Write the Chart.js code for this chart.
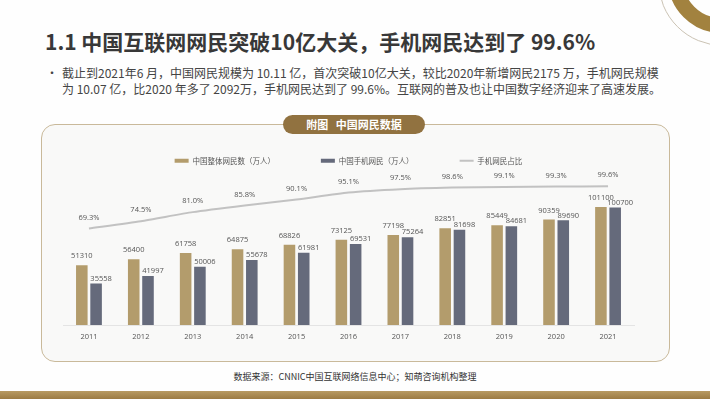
<!DOCTYPE html>
<html>
<head>
<meta charset="utf-8">
<script src="https://cdn.jsdelivr.net/npm/chart.js@4.4.1/dist/chart.umd.min.js"></script>
<style>
  body { margin: 0; background: #fefefe; width: 710px; height: 399px; overflow: hidden; position: relative;
         font-family: "Noto Sans CJK SC", "Noto Sans", sans-serif; }
  .abs { position: absolute; }
  #title { left: 45px; top: 27px; font-size: 21px; font-weight: 700; color: #383838; line-height: 28px; white-space: nowrap; }
  #bullet { left: 46px; top: 65px; font-size: 12px; color: #444; line-height: 16px; }
  #desc { left: 62px; top: 65px; font-size: 12px; color: #444; line-height: 16px; white-space: nowrap; }
  #panel { left: 41px; top: 124px; width: 629px; height: 238px; box-sizing: border-box;
           border: 1.5px solid #c9b99a; border-radius: 14px; background: #f9f9f8; }
  #pill { left: 283px; top: 115px; width: 142px; height: 19px; border-radius: 10px; background: #917240;
          color: #fff; font-size: 11px; font-weight: 700; line-height: 19px; text-align: center; }
  #source { left: 0; width: 710px; top: 370px; text-align: center; font-size: 9px; color: #333; line-height: 14px; }
  #bottom { left: 0; top: 391px; width: 710px; height: 8px; background: linear-gradient(#b89a62, #9c7b43); }
  #ring { left: 668px; top: -74px; width: 77px; height: 77px; border: 15.5px solid #a2823f; border-radius: 50%; }
  #thin { left: 658px; top: -84px; width: 128px; height: 128px; border: 1px solid #cbc3b4; border-radius: 50%; }
  canvas { position: absolute; left: 0; top: 0; }
</style>
</head>
<body>
<div id="thin" class="abs"></div>
<div id="ring" class="abs"></div>
<div id="title" class="abs">1.1 中国互联网网民突破10亿大关，手机网民达到了 99.6%</div>
<div id="bullet" class="abs">•</div>
<div id="desc" class="abs">截止到2021年6 月，中国网民规模为 10.11 亿，首次突破10亿大关，较比2020年新增网民2175 万，手机网民规模<br>为 10.07 亿，比2020 年多了 2092万，手机网民达到了 99.6%。互联网的普及也让中国数字经济迎来了高速发展。</div>
<div id="panel" class="abs"></div>
<div id="pill" class="abs">附图&nbsp;&nbsp;&nbsp;中国网民数据</div>
<div id="source" class="abs">数据来源：CNNIC中国互联网络信息中心；知萌咨询机构整理</div>
<div id="bottom" class="abs"></div>
<canvas id="chart" width="710" height="399"></canvas>
<script>
var years = ['2011', '2012', '2013', '2014', '2015', '2016', '2017', '2018', '2019', '2020', '2021'];
var total_users = [51310, 56400, 61758, 64875, 68826, 73125, 77198, 82851, 85449, 90359, 101100];
var mobile_users = [35558, 41997, 50006, 55678, 61981, 69531, 75264, 81698, 84681, 89690, 100700];
var mobile_share = [69.3, 74.5, 81.0, 85.8, 90.1, 95.1, 97.5, 98.6, 99.1, 99.3, 99.6];

var gold = '#b39c6c';
var slate = '#656a7b';
var lineGray = '#c2c2c2';
var labelFont = '7.5px "Open Sans"';

// numbers above the bars and the line
var valueLabels = {
  id: 'valueLabels',
  afterDatasetsDraw: function(chart) {
    var ctx = chart.ctx;
    ctx.save();
    ctx.font = labelFont;
    ctx.fillStyle = '#555';
    ctx.textAlign = 'center';
    ctx.textBaseline = 'middle';
    chart.data.datasets.forEach(function(ds, i) {
      chart.getDatasetMeta(i).data.forEach(function(el, j) {
        if (i == 0) ctx.fillText(ds.data[j], el.x, el.y - 9);
        else if (i == 1) ctx.fillText(ds.data[j], el.x + 5, el.y - 5);
        else ctx.fillText(ds.data[j].toFixed(1) + '%', el.x, el.y - 11);
      });
    });
    ctx.restore();
  }
};

new Chart(document.getElementById('chart'), {
  type: 'bar',
  data: {
    labels: years,
    datasets: [
      {
        label: '中国整体网民数（万人）',
        data: total_users,
        backgroundColor: gold,
        borderWidth: 0,
        pointStyle: 'rect',
        barPercentage: 0.81,
        categoryPercentage: 0.55,
        yAxisID: 'y'
      },
      {
        label: '中国手机网民（万人）',
        data: mobile_users,
        backgroundColor: slate,
        borderWidth: 0,
        pointStyle: 'rect',
        barPercentage: 0.81,
        categoryPercentage: 0.55,
        yAxisID: 'y'
      },
      {
        type: 'line',
        label: '手机网民占比',
        data: mobile_share,
        borderColor: lineGray,
        backgroundColor: lineGray,
        borderWidth: 2,
        pointRadius: 0,
        pointStyle: 'line',
        tension: 0.2,
        yAxisID: 'y1'
      }
    ]
  },
  options: {
    responsive: false,
    animation: false,
    layout: { padding: { left: 63, right: 76, top: 111, bottom: 51 } },
    scales: {
      x: {
        grid: { display: false, drawTicks: false },
        border: { display: true, color: '#e4e4e4' },
        ticks: { color: '#555', font: { family: 'Open Sans', size: 7.5 }, padding: 7 }
      },
      y: { display: false, min: 0, max: 129000 },
      y1: { display: false, min: 0, max: 108 }
    },
    plugins: {
      legend: {
        position: 'top',
        labels: {
          usePointStyle: true,
          pointStyleWidth: 14,
          boxHeight: 4,
          padding: 46,
          color: '#555',
          font: { family: 'Noto Sans CJK SC', size: 7.5 }
        }
      },
      tooltip: { enabled: false }
    }
  },
  plugins: [valueLabels]
});
</script>
</body>
</html>
